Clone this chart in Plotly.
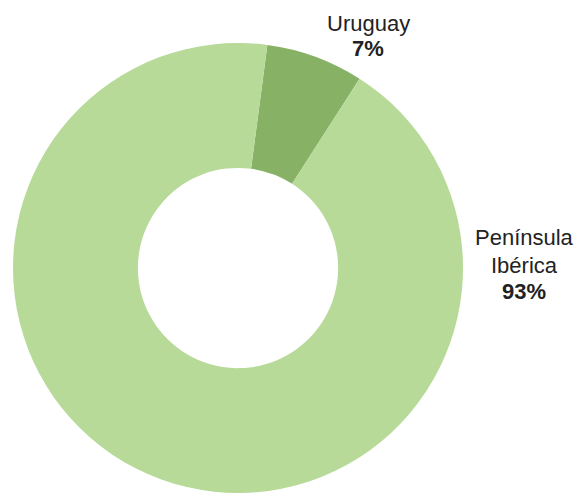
import plotly.graph_objects as go

labels = ["Uruguay", "Península Ibérica"]
values = [7, 93]
label_lines = [["Uruguay", "<b>7%</b>"], ["Península", "Ibérica", "<b>93%</b>"]]
colors = ["#87b266", "#b7da98"]

W, H = 578, 493

fig = go.Figure(go.Pie(
    labels=labels,
    values=values,
    hole=0.445,
    sort=False,
    direction="clockwise",
    rotation=7.5,
    marker=dict(colors=colors, line=dict(width=0)),
    textinfo="none",
    hoverinfo="label+percent",
    domain=dict(x=[13/W, 463/W], y=[0, 450/H]),
    showlegend=False,
))

def py(ypx):
    return (H - ypx) / H

font = dict(family="Liberation Sans, Arial, sans-serif", size=22, color="#222222")
# (x center px, baseline px)
positions = [[(368, 31), (368, 57)], [(524, 246), (524, 273), (524, 299)]]
annotations = []
for lines, pos in zip(label_lines, positions):
    for txt, (xp, yb) in zip(lines, pos):
        annotations.append(dict(
            text=txt, x=xp / W, y=py(yb - 8), xref="paper", yref="paper",
            xanchor="center", yanchor="middle", showarrow=False, font=font,
        ))

fig.update_layout(
    width=W, height=H,
    margin=dict(l=0, r=0, t=0, b=0),
    paper_bgcolor="white", plot_bgcolor="white",
    annotations=annotations,
)

fig.write_html(
    "out.html",
    config={"displayModeBar": False},
    post_script="document.body.style.margin='0';document.body.style.overflow='hidden';",
)
